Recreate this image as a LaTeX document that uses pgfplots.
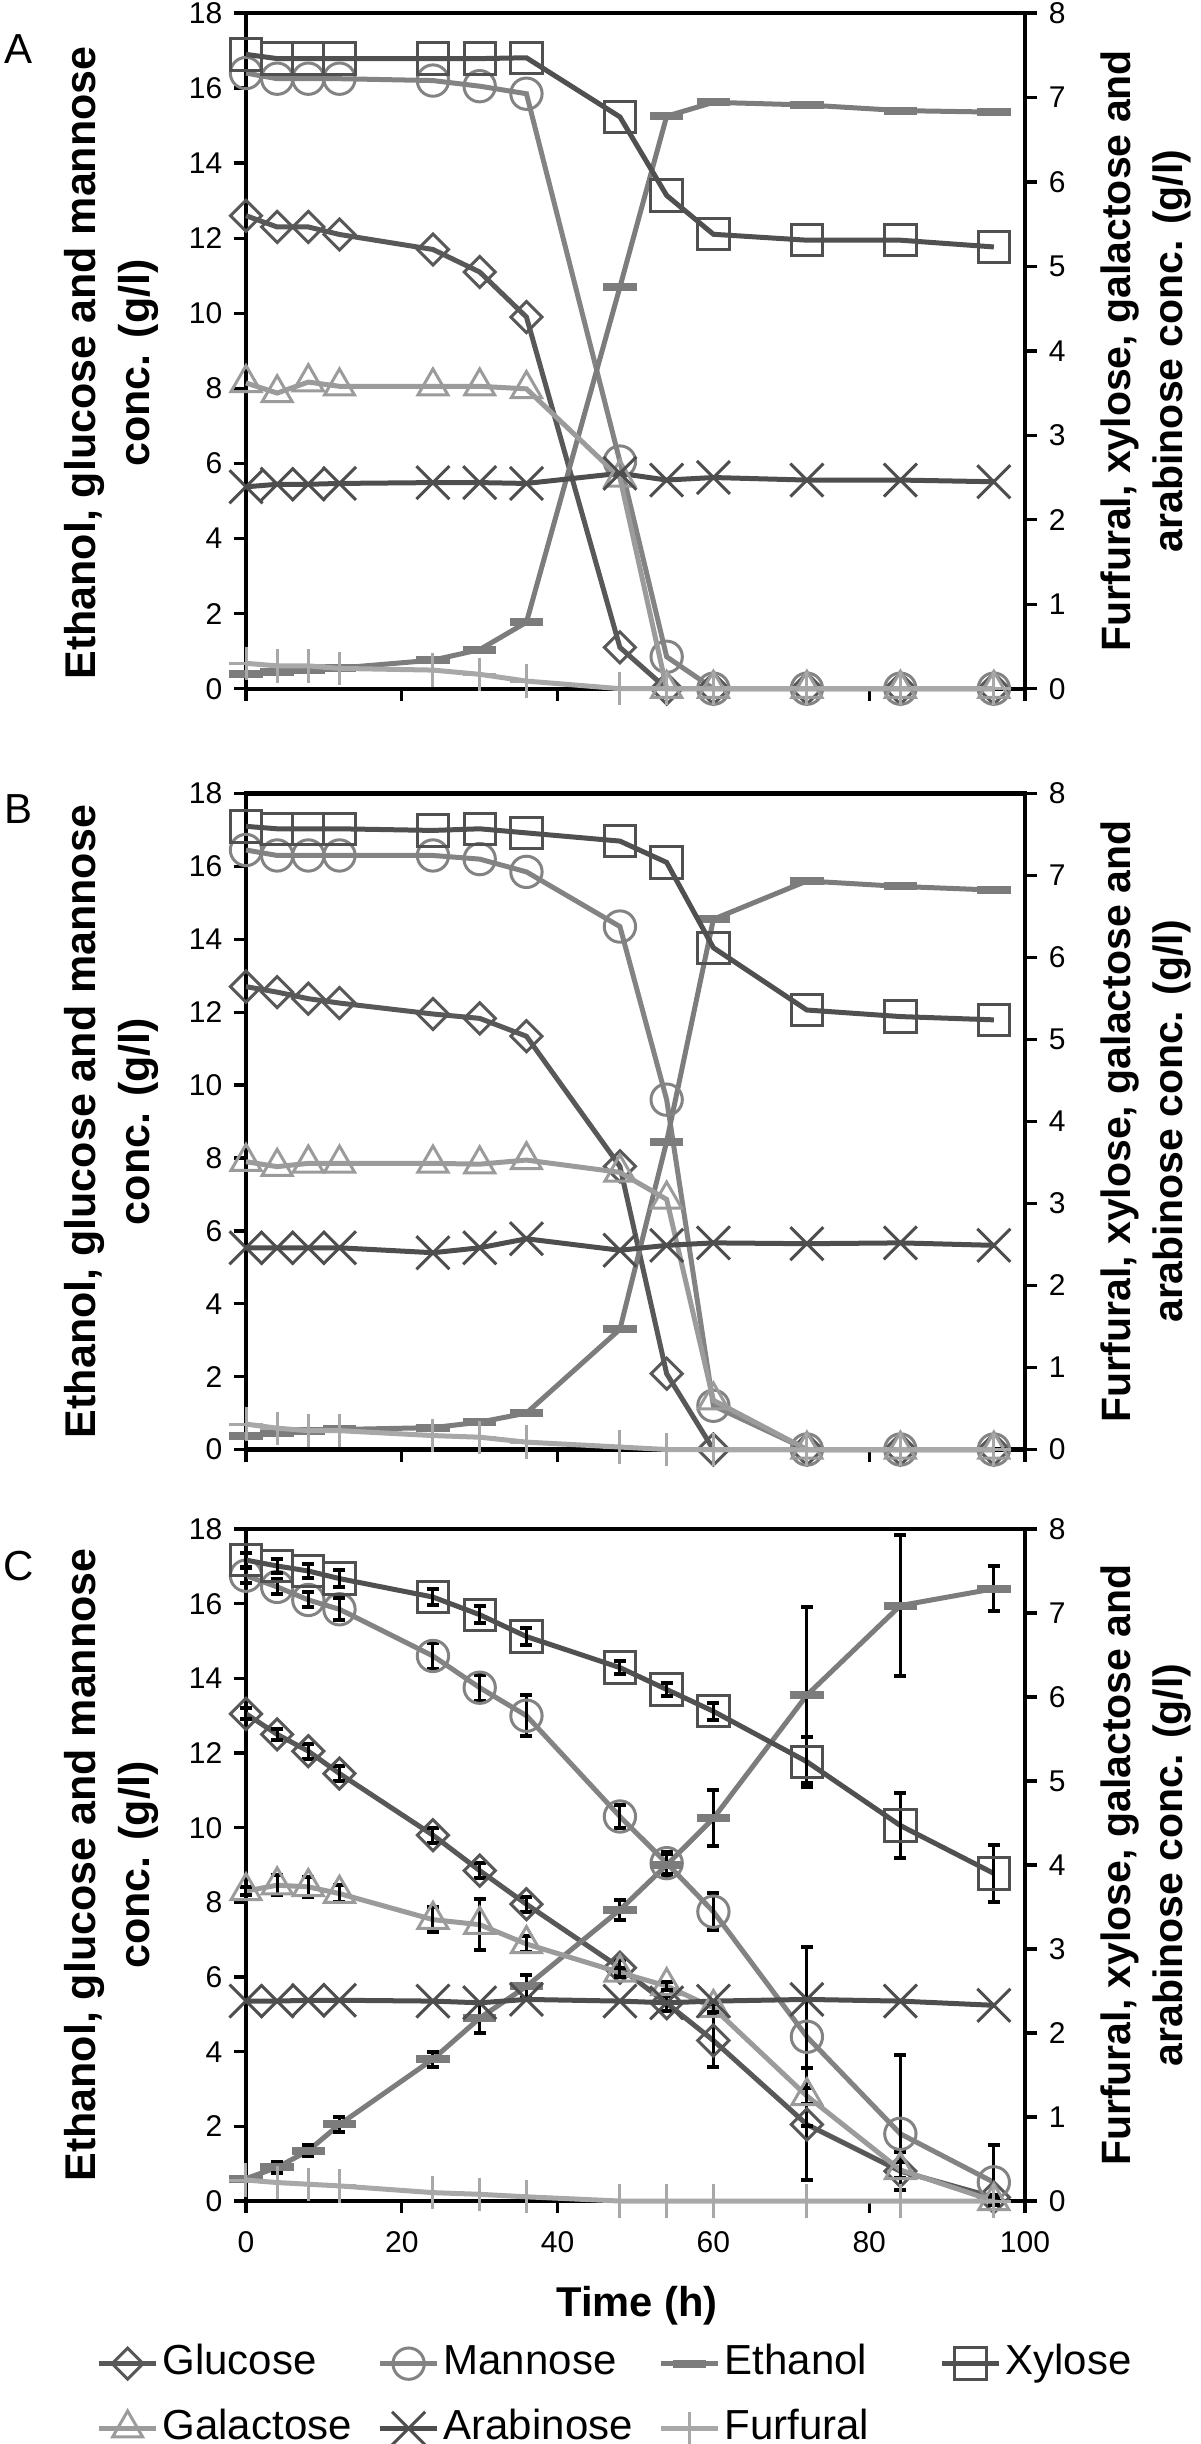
\documentclass[border=0pt]{standalone}
\usepackage{pgfplots}
\pgfplotsset{compat=1.18}
\usepackage{pgfplotstable}
\usepackage{fontspec}
\setmainfont{Liberation Sans}

\definecolor{cglu}{HTML}{585858}
\definecolor{cman}{HTML}{838383}
\definecolor{ceth}{HTML}{7C7C7C}
\definecolor{cxyl}{HTML}{505050}
\definecolor{cgal}{HTML}{9B9B9B}
\definecolor{cara}{HTML}{4E4E4E}
\definecolor{cfur}{HTML}{A8A8A8}

\pgfplotstableread{
t   glu   man   eth   xyl   gal   ara   fur
0   12.6  16.4  0.40  7.51  3.62  2.39  0.30
4   12.3  16.25 0.45  7.46  3.50  2.42  0.27
8   12.3  16.25 0.50  7.46  3.63  2.42  0.27
12  12.1  16.25 0.55  7.46  3.58  2.43  0.24
24  11.7  16.2  0.76  7.46  3.58  2.44  0.22
30  11.1  16.05 1.04  7.46  3.58  2.44  0.17
36  9.9   15.85 1.77  7.47  3.55  2.43  0.09
48  1.1   6.05  10.7  6.77  2.50  2.55  0
54  0     0.85  15.25 5.84  0     2.47  0
60  0     0     15.62 5.38  0     2.50  0
72  0     0     15.55 5.31  0     2.47  0
84  0     0     15.4  5.31  0     2.47  0
96  0     0     15.36 5.23  0     2.45  0
}\dataA

\pgfplotstableread{
t   glu   man   eth   xyl   gal   ara   fur
0   12.7  16.45 0.38  7.60  3.51  2.46  0.31
4   12.55 16.3  0.45  7.57  3.45  2.46  0.26
8   12.37 16.3  0.50  7.57  3.49  2.46  0.23
12  12.25 16.3  0.55  7.57  3.49  2.46  0.23
24  11.95 16.3  0.60  7.55  3.49  2.40  0.17
30  11.83 16.2  0.75  7.57  3.48  2.46  0.15
36  11.34 15.85 1.00  7.52  3.53  2.57  0.09
48  7.77  14.35 3.30  7.42  3.38  2.43  0.03
54  2.08  9.6   8.45  7.16  3.05  2.49  0
60  0     1.2   14.55 6.12  0.60  2.52  0
72  0     0     15.6  5.36  0     2.51  0
84  0     0     15.45 5.28  0     2.52  0
96  0     0     15.35 5.24  0     2.49  0
}\dataB

\pgfplotstableread{
t   glu   glue  man   manp  manm  eth   ethe  xyl   xyle  gal   gale  ara   fur
0   13.05 0.15  16.75 0.2   0.2   0.60  0.05  7.63  0.08  3.69  0.05  2.38  0.25
4   12.5  0.15  16.45 0.2   0.2   0.90  0.15  7.56  0.08  3.76  0.12  2.38  0.22
8   12.05 0.2   16.1  0.2   0.2   1.35  0.15  7.50  0.08  3.74  0.12  2.39  0.20
12  11.45 0.2   15.85 0.3   0.3   2.05  0.2   7.41  0.10  3.66  0.10  2.39  0.18
24  9.8   0.2   14.6  0.35  0.35  3.80  0.2   7.19  0.10  3.35  0.15  2.38  0.10
30  8.85  0.2   13.75 0.35  0.35  4.90  0.4   6.98  0.10  3.29  0.30  2.36  0.08
36  7.95  0.2   13.0  0.55  0.55  5.75  0.3   6.72  0.10  3.06  0.10  2.40  0.05
48  6.25  0.2   10.3  0.3   0.3   7.80  0.27  6.35  0.08  2.72  0.05  2.38  0
54  5.3   0.2   9.05  0.3   0.3   9.00  0.3   6.09  0.08  2.56  0.05  2.36  0
60  4.3   0.7   7.75  0.5   0.5   10.25 0.75  5.83  0.10  2.30  0.05  2.38  0
72  2.05  1.5   4.4   2.4   2.4   13.55 2.35  5.23  0.30  1.25  0.10  2.40  0
84  0.8   0.5   1.8   2.1   1.8   15.95 1.9   4.47  0.39  0.37  0.10  2.38  0
96  0.1   0.05  0.5   1.0   0.45  16.4  0.6   3.90  0.34  0     0.05  2.33  0
}\dataC

\pgfplotsset{
  sglu/.style={cglu, line width=1.5pt, mark=square, mark size=3.3pt, mark options={solid, rotate=45, line width=0.9pt}},
  sman/.style={cman, line width=1.5pt, mark=o, mark size=4.7pt, mark options={solid, line width=0.9pt}},
  seth/.style={ceth, line width=1.5pt, mark=-, mark size=5pt, mark options={solid, line width=2.4pt}},
  sxyl/.style={cxyl, line width=1.5pt, mark=square, mark size=4.7pt, mark options={solid, line width=0.9pt}},
  sgal/.style={cgal, line width=1.5pt, mark=triangle, mark size=5.2pt, mark options={solid, line width=0.9pt}},
  sara/.style={cara, line width=1.5pt, mark=x, mark size=7pt, mark options={solid, line width=0.9pt}},
  sfur/.style={cfur, line width=1.5pt, mark=+, mark size=5pt, mark options={solid, line width=0.9pt}},
  eb/.style={error bars/y dir=both, error bars/y explicit,
    error bars/error bar style={black, line width=0.9pt, solid},
    error bars/error mark options={black, rotate=90, mark size=1.8pt, line width=1.2pt}},
  base/.style={scale only axis, width=233.7pt, xmin=0, xmax=100, clip=false,
    tick align=outside, major tick length=3.6pt,
    every tick/.style={black, line width=1pt},
    axis line style={black, line width=1.3pt},
    tick label style={font=\fontsize{9}{11}\selectfont},
    xticklabel style={yshift=-2pt},
    /pgf/number format/assume math mode=true,
    label style={align=center},
    anchor=south west},
  leftax/.style={base, ymin=0, ymax=18, ytick={0,2,...,18}, xtick={0,20,...,100}, tick pos=left,
    ylabel={Ethanol, glucose and mannose\\conc. (g/l)},
    ylabel style={at={(axis description cs:-0.1733,#1)}, anchor=center, font=\fontsize{12.9}{16.2}\selectfont\bfseries}},
  rightax/.style={base, ymin=0, ymax=8, ytick={0,1,...,8}, axis y line*=right, axis x line=none,
    ylabel={Furfural, xylose, galactose and\\arabinose conc. (g/l)},
    ylabel style={at={(axis description cs:1.155,0.5)}, anchor=center, font=\fontsize{12.3}{15.6}\selectfont\bfseries}},
}

\begin{document}
\begin{tikzpicture}
\useasboundingbox (-73.8pt,0pt) rectangle (286.2pt,-733.2pt);

% ---------------- Panel A ----------------
\begin{axis}[leftax=0.482, height=202.7pt, at={(0pt,-206.6pt)}, xticklabels={}]
\addplot[sglu] table[x=t,y=glu]{\dataA};
\addplot[sman] table[x=t,y=man]{\dataA};
\addplot[seth] table[x=t,y=eth]{\dataA};
\end{axis}
\begin{axis}[rightax, height=202.7pt, at={(0pt,-206.6pt)}]
\addplot[sxyl] table[x=t,y=xyl]{\dataA};
\addplot[sgal] table[x=t,y=gal]{\dataA};
\addplot[sara] table[x=t,y=ara]{\dataA};
\addplot[sfur] table[x=t,y=fur]{\dataA};
\end{axis}

% ---------------- Panel B ----------------
\begin{axis}[leftax=0.5, height=196.8pt, at={(0pt,-434.85pt)}, xticklabels={}]
\addplot[sglu] table[x=t,y=glu]{\dataB};
\addplot[sman] table[x=t,y=man]{\dataB};
\addplot[seth] table[x=t,y=eth]{\dataB};
\end{axis}
\begin{axis}[rightax, height=196.8pt, at={(0pt,-434.85pt)}]
\addplot[sxyl] table[x=t,y=xyl]{\dataB};
\addplot[sgal] table[x=t,y=gal]{\dataB};
\addplot[sara] table[x=t,y=ara]{\dataB};
\addplot[sfur] table[x=t,y=fur]{\dataB};
\end{axis}

% ---------------- Panel C ----------------
\begin{axis}[leftax=0.5, height=201.6pt, at={(0pt,-660.3pt)},
  xlabel={Time (h)}, xlabel style={at={(axis description cs:0.502,0)}, anchor=center, yshift=-31.5pt, font=\fontsize{12.5}{15}\selectfont\bfseries}]
\addplot[sglu, eb] table[x=t,y=glu,y error=glue]{\dataC};
\addplot[sman, eb] table[x=t,y=man,y error plus=manp,y error minus=manm]{\dataC};
\addplot[seth, eb] table[x=t,y=eth,y error=ethe]{\dataC};
\end{axis}
\begin{axis}[rightax, height=201.6pt, at={(0pt,-660.3pt)},
  legend columns=4, legend cell align=left,
  legend style={at={(axis description cs:-0.1926,-0.21)}, anchor=north west, draw=none, fill=none,
    inner sep=0pt, column sep=0pt, row sep=6.9pt, font=\fontsize{12.6}{15}\selectfont,
    nodes={inner xsep=1.2pt, inner ysep=0pt, text height=9.5pt, text depth=3pt}},
  legend image code/.code={\draw[mark repeat=2,mark phase=2] plot coordinates {(0pt,0pt) (8.55pt,0pt) (17.1pt,0pt)};}]
\addplot[sxyl, eb, forget plot] table[x=t,y=xyl,y error=xyle]{\dataC};
\addplot[sgal, eb, forget plot] table[x=t,y=gal,y error=gale]{\dataC};
\addplot[sara, forget plot] table[x=t,y=ara]{\dataC};
\addplot[sfur, forget plot] table[x=t,y=fur]{\dataC};
\addlegendimage{sglu}\addlegendentry{\makebox[63.3pt][l]{Glucose}}
\addlegendimage{sman}\addlegendentry{\makebox[63.3pt][l]{Mannose}}
\addlegendimage{seth}\addlegendentry{\makebox[63.3pt][l]{Ethanol}}
\addlegendimage{sxyl}\addlegendentry{\makebox[63.3pt][l]{Xylose}}
\addlegendimage{sgal}\addlegendentry{\makebox[63.3pt][l]{Galactose}}
\addlegendimage{sara}\addlegendentry{\makebox[63.3pt][l]{Arabinose}}
\addlegendimage{sfur}\addlegendentry{\makebox[63.3pt][l]{Furfural}}
\end{axis}

\node[font=\fontsize{12.6}{15}\selectfont] at (-68.1pt,-14.7pt) {A};
\node[font=\fontsize{12.6}{15}\selectfont] at (-68.1pt,-242.85pt) {B};
\node[font=\fontsize{12.6}{15}\selectfont] at (-68.1pt,-469.8pt) {C};
\end{tikzpicture}
\end{document}
